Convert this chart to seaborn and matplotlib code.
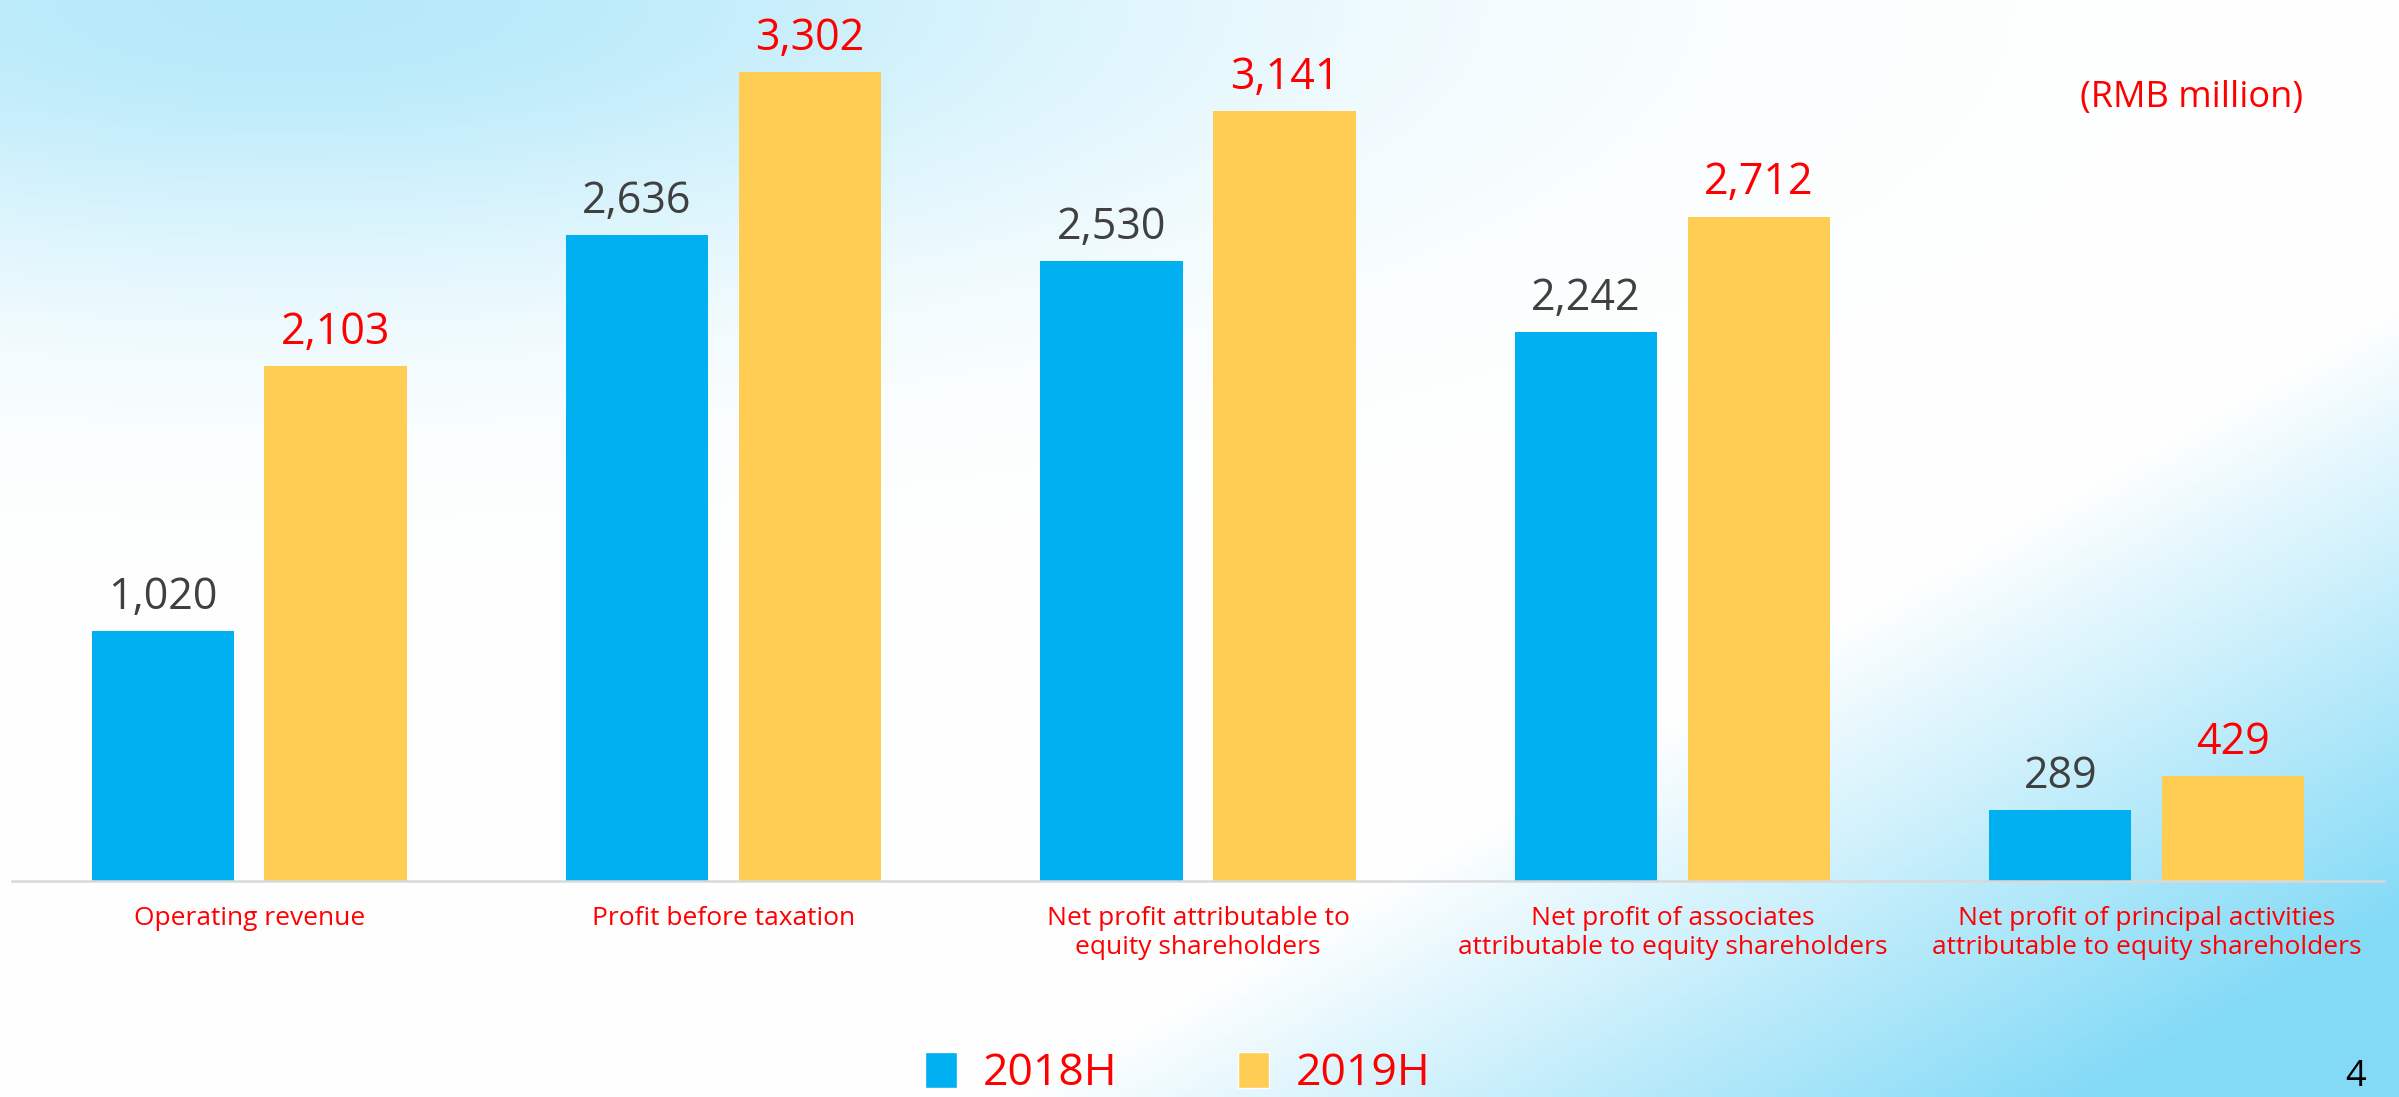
import numpy as np
import pandas as pd
import matplotlib.pyplot as plt
import seaborn as sns
from matplotlib.patches import Patch

categories = [
    "Operating revenue",
    "Profit before taxation",
    "Net profit attributable to\nequity shareholders",
    "Net profit of associates\nattributable to equity shareholders",
    "Net profit of principal activities\nattributable to equity shareholders",
]
periods = ["2018H", "2019H"]
values_2018h = [1020, 2636, 2530, 2242, 289]
values_2019h = [2103, 3302, 3141, 2712, 429]

blue = "#00B0F0"
yellow = "#FFCD53"
red = "#FF0000"
grey_text = "#404040"

df = pd.DataFrame({
    "category": categories * 2,
    "period": [periods[0]] * 5 + [periods[1]] * 5,
    "value": values_2018h + values_2019h,
})

sns.set_style("white")
plt.rcParams["font.family"] = ["Open Sans", "DejaVu Sans"]

fig = plt.figure(figsize=(23.99, 10.97), dpi=100)

# light blue slide background
bg = fig.add_axes([0, 0, 1, 1], zorder=0)
yy, xx = np.mgrid[0:1:300j, 0:1:600j]
tl = np.exp(-(((xx - 0.12) / 0.38) ** 2 + (yy / 0.25) ** 2))
br = np.clip((xx + 0.8 * yy - 1.22) / 0.45, 0, 1)
a = np.maximum(0.5 * tl, 0.85 * br)[..., None]
cyan = np.array([110, 212, 245]) / 255
img = (1 - a) * np.ones(3) + a * cyan
bg.imshow(img, extent=[0, 1, 0, 1], aspect="auto", origin="upper")
bg.axis("off")

ax = fig.add_axes([0.005, 0.1969, 0.9887, 0.8031], zorder=1)
ax.set_facecolor("none")
sns.barplot(data=df, x="category", y="value", hue="period",
            palette=[blue, yellow], width=0.729, gap=0.177,
            saturation=1, linewidth=0, edgecolor="none",
            legend=False, ax=ax)

ax.set_xlim(-0.5, 4.5)
ax.set_ylim(0, 3596)
ax.set_xlabel("")
ax.set_ylabel("")
ax.set_yticks([])

for sp in ["top", "right", "left"]:
    ax.spines[sp].set_visible(False)
ax.spines["bottom"].set_color("#D9D9D9")
ax.spines["bottom"].set_linewidth(1.8)

ax.tick_params(axis="x", which="major", length=0, pad=18,
               labelsize=19, labelcolor=red)
ax.set_xticks(np.arange(-0.5, 5, 1), minor=True)
ax.tick_params(axis="x", which="minor", direction="in", length=8,
               width=1.5, color="#D9D9D9")

ax.bar_label(ax.containers[0], fmt="{:,.0f}", padding=8,
             fontsize=31, color=grey_text)
ax.bar_label(ax.containers[1], fmt="{:,.0f}", padding=8,
             fontsize=31, color=red)

fig.text(0.96, 0.911, "(RMB million)", ha="right", va="center",
         fontsize=26, color=red)
fig.text(0.982, 0.002, "4", ha="center", va="bottom", fontsize=26,
         color="black")

handles = [Patch(facecolor=blue, label="2018H"),
           Patch(facecolor=yellow, label="2019H")]
leg = fig.legend(handles=handles, loc="center", bbox_to_anchor=(0.491, 0.021),
                 ncol=2, frameon=False, fontsize=32, handlelength=0.7,
                 handleheight=0.85, handletextpad=0.6, columnspacing=2.7,
                 borderpad=0)
for t in leg.get_texts():
    t.set_color(red)

plt.savefig("out.png", dpi=100)
